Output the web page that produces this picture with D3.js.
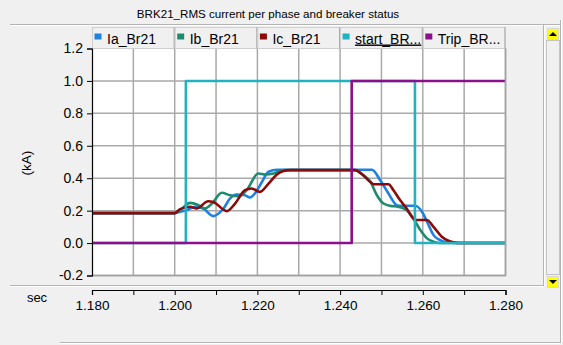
<!DOCTYPE html>
<html><head><meta charset="utf-8">
<script src="https://cdn.jsdelivr.net/npm/d3@7"></script>
<style>
html,body{margin:0;padding:0;background:#f0f0f0;}
svg{display:block;font-family:"Liberation Sans",Arial,sans-serif;}
</style></head><body>
<svg id="chart" width="563" height="345"></svg>
<script>
// Breaker BRK21: RMS phase currents (kA) and the start / trip status signals.
const chartTitle = "BRK21_RMS current per phase and breaker status";
const yAxisLabel = "(kA)";
const xAxisLabel = "sec";

const seriesNames  = ["Ia_Br21", "Ib_Br21", "Ic_Br21", "start_BR...", "Trip_BR..."];
const seriesColors = ["#1f80de", "#1e8a6e", "#8b0a0a", "#22b2c2", "#8c108c"];

const iaTime  = [1.18, 1.2000, 1.2013, 1.2029, 1.2049, 1.2069, 1.2093, 1.2118, 1.2134, 1.2150, 1.2170, 1.2182, 1.2194, 1.2211, 1.2227, 1.2247, 1.2477, 1.2497, 1.2517, 1.2537, 1.2545, 1.2582, 1.2598, 1.2614, 1.2626, 1.2642, 1.2658, 1.2680, 1.28];
const iaValue = [0.185, 0.185, 0.193, 0.203, 0.224, 0.213, 0.166, 0.213, 0.275, 0.300, 0.295, 0.281, 0.306, 0.377, 0.440, 0.452, 0.452, 0.388, 0.306, 0.234, 0.230, 0.230, 0.193, 0.111, 0.049, 0.018, 0.005, 0.0, 0.0];

const ibTime  = [1.18, 1.2000, 1.2013, 1.2037, 1.2057, 1.2073, 1.2090, 1.2114, 1.2134, 1.2154, 1.2174, 1.2202, 1.2219, 1.2239, 1.2255, 1.2265, 1.2436, 1.2456, 1.2473, 1.2489, 1.2505, 1.2525, 1.2537, 1.2561, 1.2577, 1.2594, 1.2610, 1.2626, 1.2640, 1.28];
const ibValue = [0.185, 0.185, 0.203, 0.248, 0.234, 0.213, 0.244, 0.310, 0.295, 0.289, 0.326, 0.429, 0.423, 0.429, 0.445, 0.450, 0.450, 0.418, 0.380, 0.295, 0.244, 0.228, 0.226, 0.203, 0.152, 0.080, 0.029, 0.008, 0.0, 0.0];

const icTime  = [1.18, 1.2000, 1.2013, 1.2037, 1.2053, 1.2081, 1.2093, 1.2126, 1.2146, 1.2170, 1.2186, 1.2206, 1.2227, 1.2247, 1.2263, 1.2279, 1.2436, 1.2456, 1.2473, 1.2481, 1.2517, 1.2529, 1.2545, 1.2561, 1.2577, 1.2586, 1.2610, 1.2626, 1.2646, 1.2662, 1.2674, 1.2690, 1.28];
const icValue = [0.185, 0.185, 0.209, 0.224, 0.213, 0.258, 0.254, 0.197, 0.244, 0.326, 0.337, 0.316, 0.367, 0.423, 0.445, 0.450, 0.450, 0.418, 0.377, 0.363, 0.363, 0.326, 0.265, 0.213, 0.152, 0.142, 0.142, 0.100, 0.039, 0.014, 0.005, 0.0, 0.0];

// status signals: value holds from each time until the next one
const startTime  = [1.18, 1.2027, 1.2581, 1.28];
const startValue = [0, 1, 0, 0];
const tripTime   = [1.18, 1.2428, 1.28];
const tripValue  = [0, 1, 1];

const xTicks      = [1.18, 1.19, 1.20, 1.21, 1.22, 1.23, 1.24, 1.25, 1.26, 1.27, 1.28];
const xTickLabels = ["1.180", "", "1.200", "", "1.220", "", "1.240", "", "1.260", "", "1.280"];
const yTicks      = [-0.2, 0.0, 0.2, 0.4, 0.6, 0.8, 1.0, 1.2];
const yTickLabels = ["-0.2", "0.0", "0.2", "0.4", "0.6", "0.8", "1.0", "1.2"];

const svg = d3.select("#chart");
const plot = {left: 92, right: 505.5, top: 48.5, bottom: 275.5};
const x = d3.scaleLinear().domain([1.18, 1.28]).range([plot.left, plot.right]);
const y = d3.scaleLinear().domain([-0.2, 1.2]).range([plot.bottom, plot.top]);

// window chrome: etched separators and scrollbar
const chrome = svg.append("g");
function etched(x1, y1, x2, y2) {
  chrome.append("line").attr("x1", x1).attr("y1", y1).attr("x2", x2).attr("y2", y2)
    .attr("stroke", "#b4b4b4").attr("stroke-width", 1);
  const dx = x1 === x2 ? 1 : 0, dy = y1 === y2 ? 1 : 0;
  chrome.append("line").attr("x1", x1 + dx).attr("y1", y1 + dy).attr("x2", x2 + dx).attr("y2", y2 + dy)
    .attr("stroke", "#ffffff").attr("stroke-width", 1);
}
etched(10, 24.5, 561, 24.5);
etched(10, 285.5, 544, 285.5);
etched(543.5, 25, 543.5, 286);
etched(560.5, 20, 560.5, 343);
etched(60, 342.5, 560, 342.5);
chrome.append("rect").attr("x", 546.5).attr("y", 40.5).attr("width", 13).attr("height", 234)
  .attr("fill", "#f0f0f0").attr("stroke", "#c4c4c4");
[{y0: 28, up: true}, {y0: 276, up: false}].forEach(b => {
  chrome.append("rect").attr("x", 547.5).attr("y", b.y0 + 0.5).attr("width", 11).attr("height", 11)
    .attr("fill", "#ffff00").attr("stroke", "#d8d8d8");
  const cx = 553, cy = b.y0 + 6;
  const pts = b.up ? [[cx - 4, cy + 2], [cx + 4, cy + 2], [cx, cy - 2]] : [[cx - 4, cy - 2], [cx + 4, cy - 2], [cx, cy + 2]];
  chrome.append("path").attr("d", d3.line()(pts) + "Z").attr("fill", "#000");
});

// title
svg.append("text").attr("x", 268).attr("y", 18).attr("text-anchor", "middle")
  .attr("font-size", 11.6).attr("fill", "#000").text(chartTitle);

// plot background and grid
svg.append("rect").attr("x", plot.left).attr("y", plot.top)
  .attr("width", plot.right - plot.left).attr("height", plot.bottom - plot.top).attr("fill", "#fff");
const grid = svg.append("g").attr("stroke", "#a9a9a9").attr("stroke-width", 1.5);
grid.selectAll(".gx").data(xTicks.slice(1)).join("line")
  .attr("x1", d => x(d)).attr("x2", d => x(d)).attr("y1", plot.top).attr("y2", plot.bottom);
grid.selectAll(".gy").data(yTicks.slice(0, -1)).join("line")
  .attr("x1", plot.left).attr("x2", plot.right).attr("y1", d => y(d)).attr("y2", d => y(d));

// legend tabs, one per series, spanning the top of the plot
const tabW = (plot.right - plot.left) / seriesNames.length;
const tabs = svg.append("g");
seriesNames.forEach((name, i) => {
  const tx = plot.left + i * tabW;
  const g = tabs.append("g").attr("transform", `translate(${tx},27)`);
  g.append("rect").attr("x", 0.5).attr("y", 0.5).attr("width", tabW - 1).attr("height", 21)
    .attr("fill", "#f0f0f0").attr("stroke", "#cfcfcf");
  g.append("line").attr("x1", tabW - 0.5).attr("x2", tabW - 0.5).attr("y1", 0).attr("y2", 22)
    .attr("stroke", "#a8a8a8");
  g.append("rect").attr("x", 2.5).attr("y", 6.5).attr("width", 7).attr("height", 6)
    .attr("fill", seriesColors[i]);
  const t = g.append("text").attr("x", 15).attr("y", 16.5).attr("font-size", 14).attr("fill", "#000").text(name);
  if (i === 3) t.attr("text-decoration", "underline");
});

// series
const line = d3.line().x(d => x(d[0])).y(d => y(d[1]));
const pairs = (ts, vs) => ts.map((t, i) => [t, vs[i]]);
const curves = [
  {data: pairs(iaTime, iaValue), curve: d3.curveMonotoneX},
  {data: pairs(ibTime, ibValue), curve: d3.curveMonotoneX},
  {data: pairs(icTime, icValue), curve: d3.curveMonotoneX},
  {data: pairs(startTime, startValue), curve: d3.curveStepAfter},
  {data: pairs(tripTime, tripValue), curve: d3.curveStepAfter}
];
const series = svg.append("g");
curves.forEach((s, i) => {
  series.append("path").datum(s.data)
    .attr("d", line.curve(s.curve))
    .attr("fill", "none").attr("stroke", seriesColors[i])
    .attr("stroke-width", 2.6).attr("stroke-linejoin", "round");
});

// plot frame (right and bottom edges)
svg.append("path")
  .attr("d", `M${plot.right},${plot.top}V${plot.bottom}H${plot.left}`)
  .attr("fill", "none").attr("stroke", "#a0a0a0").attr("stroke-width", 1.5);

// y axis
const yAxis = svg.append("g").attr("transform", `translate(${plot.left},0)`)
  .call(d3.axisLeft(y).tickValues(yTicks).tickSize(5).tickPadding(4)
    .tickFormat((d, i) => yTickLabels[i]));
yAxis.selectAll("text").attr("font-size", 14).attr("font-family", "Liberation Sans, Arial, sans-serif").attr("fill", "#000");
yAxis.select(".domain").attr("stroke", "#000").attr("stroke-width", 1.2);
yAxis.selectAll(".tick line").attr("stroke", "#000");

svg.append("text").attr("transform", "translate(30.5,163) rotate(-90)")
  .attr("text-anchor", "middle").attr("font-size", 13.5).attr("fill", "#000").text(yAxisLabel);

// x axis in its own strip below the plot
const xAxis = svg.append("g").attr("transform", "translate(0,290)")
  .call(d3.axisBottom(x).tickValues(xTicks).tickSize(5).tickSizeOuter(5).tickPadding(5.5)
    .tickFormat((d, i) => xTickLabels[i]));
xAxis.selectAll("text").attr("font-size", 13.5).attr("font-family", "Liberation Sans, Arial, sans-serif").attr("fill", "#000");
xAxis.select(".domain").attr("stroke", "#000").attr("stroke-width", 1.2);
xAxis.selectAll(".tick line").attr("stroke", "#000");

svg.append("text").attr("x", 37).attr("y", 302).attr("text-anchor", "middle")
  .attr("font-size", 13).attr("fill", "#000").text(xAxisLabel);
</script>
</body></html>
